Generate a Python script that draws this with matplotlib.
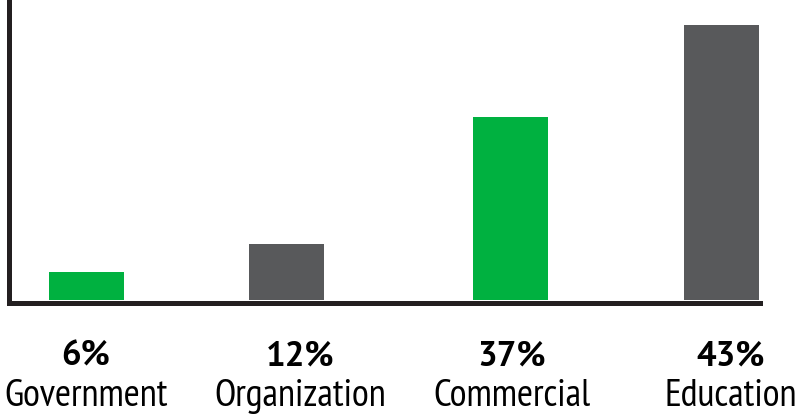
import matplotlib
matplotlib.use("Agg")
import matplotlib.pyplot as plt
import matplotlib.transforms as mtrans
from matplotlib import font_manager

categories = ["Government", "Organization", "Commercial", "Education"]
pct_labels = ["6%", "12%", "37%", "43%"]
bar_heights = [6.1, 12.2, 39.8, 59.8]
bar_colors = ["#00B140", "#58595B", "#00B140", "#58595B"]

# layout (not data)
bar_pos = [0.0, 0.949, 2.003, 3.0]
label_pos = [0.0, 1.011, 2.012, 3.047]

names = {f.name for f in font_manager.fontManager.ttflist}


def pick(prefs):
    for p in prefs:
        if p in names:
            return p
    return "DejaVu Sans"


narrow = pick(["PT Sans Narrow", "Roboto Condensed", "Open Sans Condensed",
               "Archivo Narrow", "Sofia Sans Condensed", "Liberation Sans Narrow"])
boldfam = pick(["PT Sans", "Open Sans", "Liberation Sans"])

W, H = 798, 419
fig = plt.figure(figsize=(W / 100, H / 100), dpi=100)
ax = fig.add_axes([9 / W, (H - 302.5) / H, (760 - 9) / W, 302.5 / H])

u = 211.7
ax.bar(bar_pos, bar_heights, width=75 / u, color=bar_colors, zorder=1)
ax.set_xlim(-(86 - 9) / u, -(86 - 9) / u + (760 - 9) / u)
scale = 4.6
ax.set_ylim(-2.5 / scale, 300 / scale)

for s in ["top", "right"]:
    ax.spines[s].set_visible(False)
for s in ["left", "bottom"]:
    ax.spines[s].set_linewidth(5 * 72 / 100)
    ax.spines[s].set_color("#231F20")
    ax.spines[s].set_capstyle("projecting")
ax.set_xticks([])
ax.set_yticks([])

blend = mtrans.blended_transform_factory(ax.transData, fig.transFigure)
for x, p, c in zip(label_pos, pct_labels, categories):
    ax.text(x, 1 - 365 / H, p, transform=blend, ha="center", va="baseline",
            fontsize=25, fontweight="bold", family=boldfam, color="#000000")
    ax.text(x, 1 - 406 / H, c, transform=blend, ha="center", va="baseline",
            fontsize=28, family=narrow, color="#000000")

fig.savefig("out.png", dpi=100)
